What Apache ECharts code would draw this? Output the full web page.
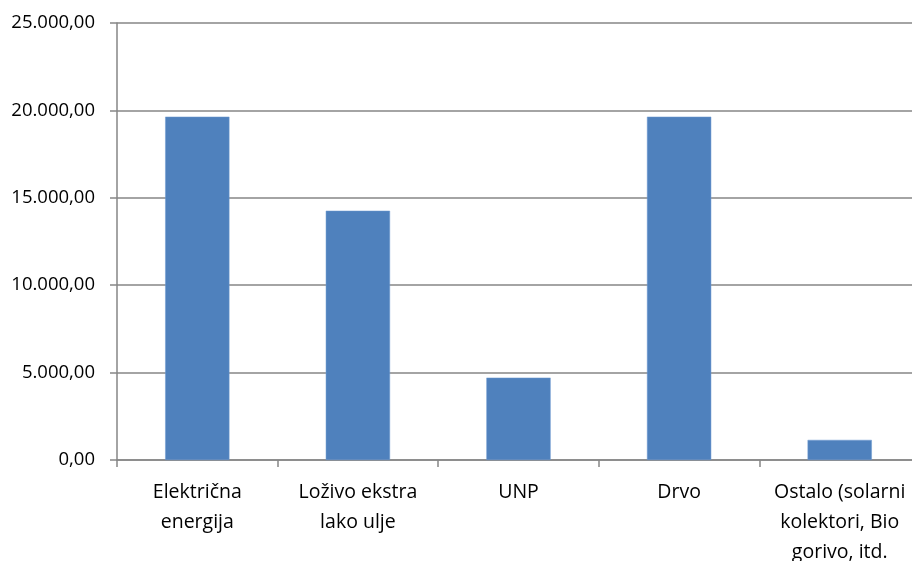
<!DOCTYPE html>
<html><head><meta charset="utf-8">
<script src="https://cdn.jsdelivr.net/npm/echarts@6/dist/echarts.min.js"></script>
<style>html,body{margin:0;padding:0;background:#fff}#c{width:912px;height:561px}</style>
</head><body><div id="c"></div>
<script>
const categories = ["Električna\nenergija", "Loživo ekstra\nlako ulje", "UNP", "Drvo", "Ostalo (solarni\nkolektori, Bio\ngorivo, itd."];
const values = [19640, 14260, 4710, 19640, 1150];
const yMin = 0, yMax = 25000, yStep = 5000;

const chart = echarts.init(document.getElementById('c'), null, {renderer: 'canvas'});
const font = '"Open Sans", sans-serif';
chart.setOption({
  animation: false,
  grid: {left: 117, width: 803, top: 23, height: 437, containLabel: false, outerBoundsMode: 'none'},
  xAxis: {
    type: 'category', data: categories,
    axisLine: {lineStyle: {color: '#868686', width: 1.5}},
    axisTick: {show: true, length: 7, alignWithLabel: false, lineStyle: {color: '#868686', width: 1.5}},
    axisLabel: {color: '#000', fontFamily: font, fontSize: 19.5, lineHeight: 30, margin: 17, interval: 0}
  },
  yAxis: {
    type: 'value', min: yMin, max: yMax, interval: yStep,
    axisLine: {show: true, lineStyle: {color: '#868686', width: 1.5}},
    axisTick: {show: true, length: 7, lineStyle: {color: '#868686', width: 1.5}},
    splitLine: {lineStyle: {color: '#868686', width: 1.5}},
    axisLabel: {color: '#000', fontFamily: font, fontSize: 18.5, margin: 22,
      formatter: v => v.toLocaleString('de-DE', {minimumFractionDigits: 2, maximumFractionDigits: 2})}
  },
  series: [{
    type: 'bar', data: values, barCategoryGap: '60%',
    itemStyle: {color: '#4F81BD', borderColor: '#6F9AD0', borderWidth: 0.5}
  }]
});
</script></body></html>
